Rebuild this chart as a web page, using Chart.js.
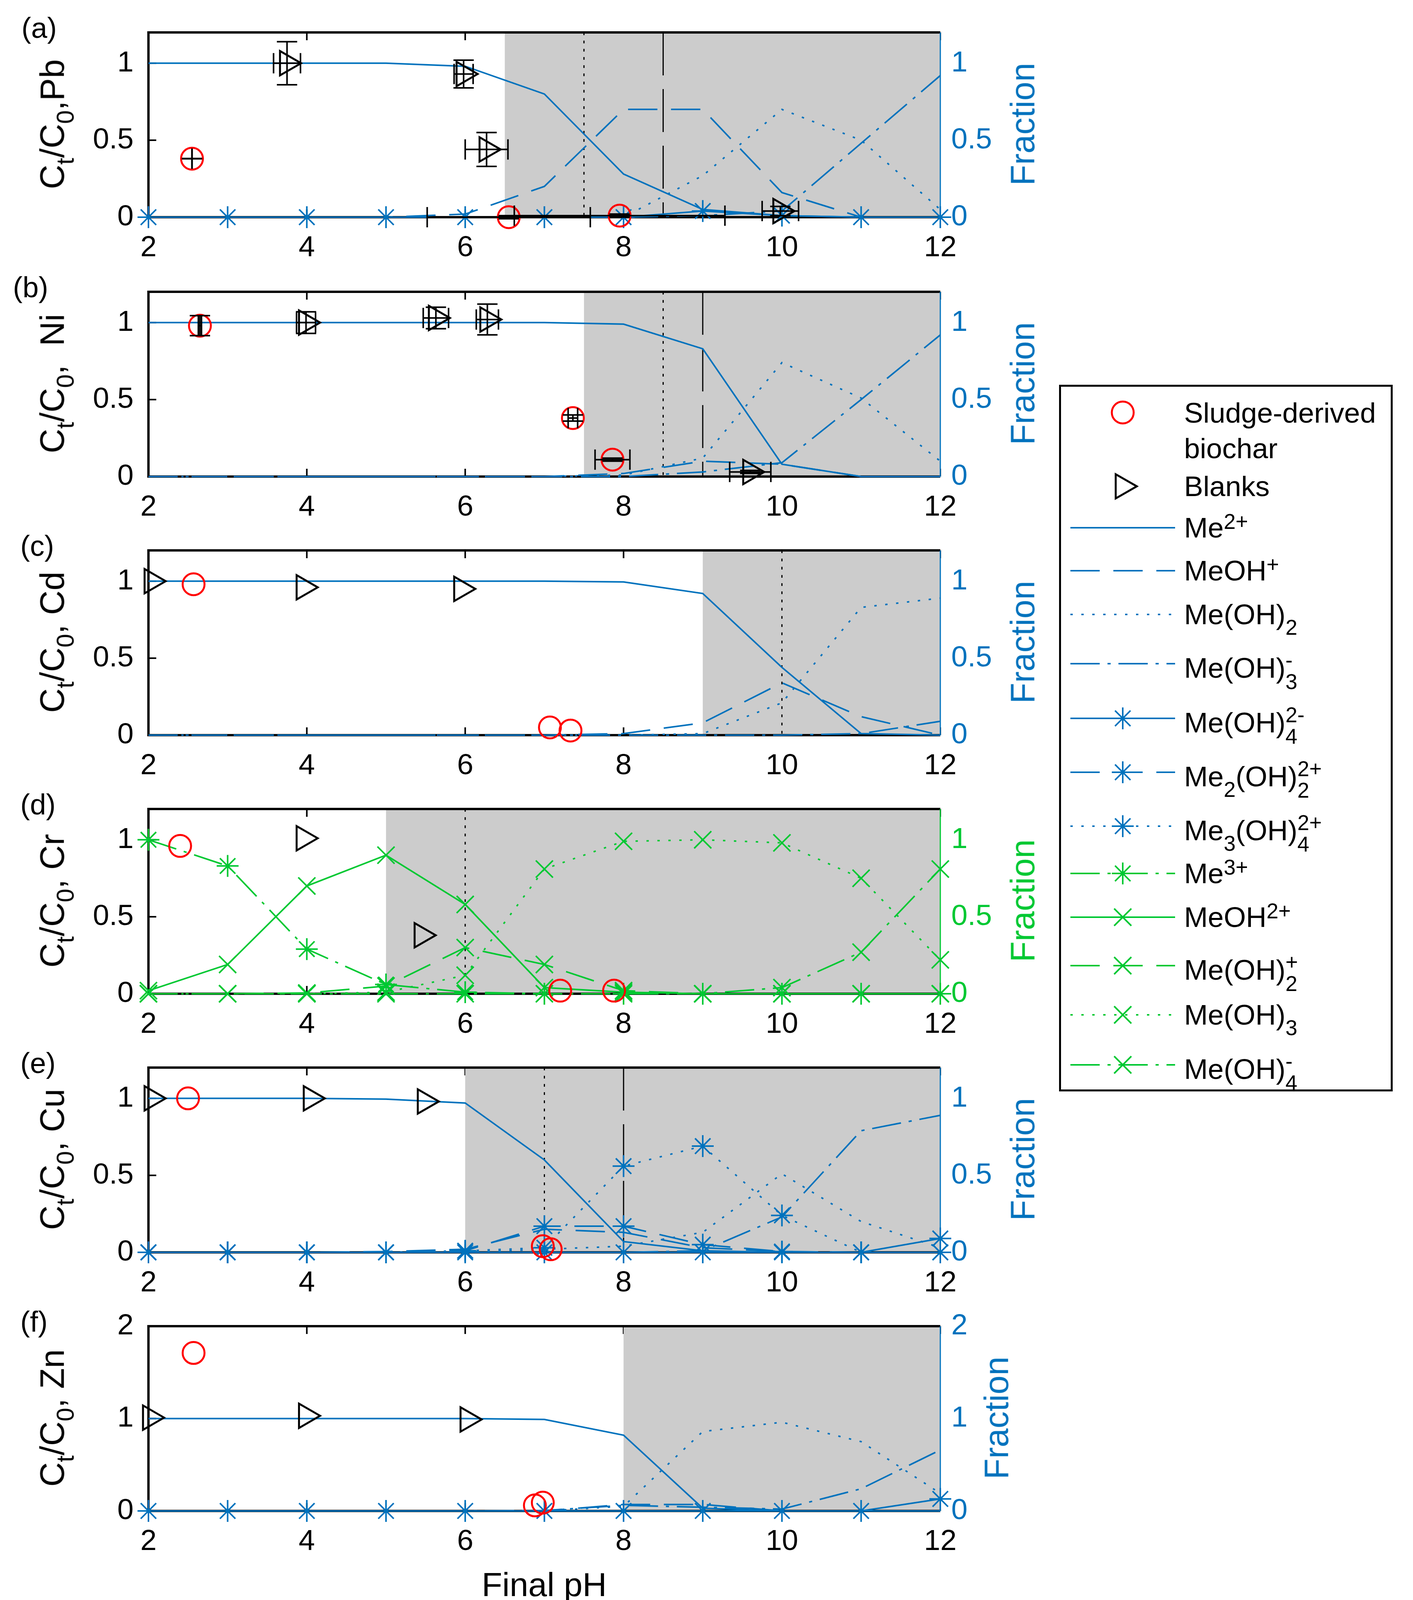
<!DOCTYPE html>
<html>
<head>
<meta charset="utf-8">
<script src="https://cdn.jsdelivr.net/npm/chart.js@4.4.1/dist/chart.umd.min.js"></script>
<style>
  body { margin: 0; background: #fff; }
  #page { position: relative; width: 3617px; height: 4128px; font-family: "Liberation Sans", Arial, sans-serif; color: #000; overflow: hidden; }
  canvas.panel { position: absolute; left: 0; }
  .plabel { position: absolute; font-size: 74px; line-height: 74px; }
  .ytitle { position: absolute; font-size: 87px; line-height: 87px; white-space: nowrap; transform: translate(-50%, -50%) rotate(-90deg); }
  .ytitle sub { font-size: 0.72em; vertical-align: -0.4em; line-height: 0; }
  .xtitle { position: absolute; font-size: 86px; line-height: 86px; white-space: nowrap; transform: translate(-50%, -50%); }
  #legend { position: absolute; left: 2711px; top: 985px; width: 854px; height: 1809px; box-sizing: border-box; border: 5px solid #000; background: #fff; }
  .lrow { position: absolute; left: 0; }
  .lrow svg { position: absolute; left: 24px; top: -40px; }
  .ltext { position: absolute; left: 315px; top: -37px; font-size: 73px; line-height: 73px; white-space: nowrap; }
  .ltext sup { font-size: 0.75em; vertical-align: 0.4em; line-height: 0; }
  .ltext sub { font-size: 0.75em; vertical-align: -0.5em; line-height: 0; }
  .ss { display: inline-block; position: relative; width: 0.9em; height: 1em; vertical-align: baseline; }
  .ss .u, .ss .d { position: absolute; left: 0; font-size: 0.75em; line-height: 1; }
  .ss .u { top: 0.02em; }
  .ss .d { top: 1.02em; }
</style>
</head>
<body>
<div id="page"></div>
<script>
// ---- data ----
const pH = [2, 3, 4, 5, 6, 7, 8, 9, 10, 11, 12];
const xTicks = [2, 4, 6, 8, 10, 12];
const yTicks = [0, 0.5, 1];
const yTicksZn = [0, 1, 2];

// shaded region start, vertical marker lines (pH), one per panel a..f
const shadeFrom = [6.5, 7.5, 9, 5, 6, 8];
const dottedAt = [7.5, 8.5, 10, 6, 7, null];
const dashedAt = [8.5, 9, null, null, 8, null];

// (a) Pb speciation
const pbMe = [1, 1, 1, 1, 0.98, 0.80, 0.28, 0.05, 0.01, 0, 0];
const pbMeOH = [0, 0, 0, 0, 0.02, 0.20, 0.70, 0.70, 0.16, 0, 0];
const pbMeOH2 = [0, 0, 0, 0, 0, 0, 0, 0.27, 0.70, 0.50, 0.05];
const pbMeOH3 = [0, 0, 0, 0, 0, 0, 0, 0.01, 0.04, 0.48, 0.92];
const pbMeOH4 = [0, 0, 0, 0, 0, 0, 0, 0.04, 0.01, 0, 0];
const pbSludgePH = [2.55, 6.55, 7.95];
const pbSludgeC = [0.38, 0.0, 0.01];
const pbSludgeXErr = [0.001, 1.03, 1.33];
const pbSludgeYErr = [0.001, 0.01, 0.01];
const pbBlankPH = [3.75, 5.98, 6.27, 9.98];
const pbBlankC = [1.0, 0.93, 0.44, 0.04];
const pbBlankXErr = [0.17, 0.12, 0.27, 0.23];
const pbBlankYErr = [0.14, 0.09, 0.11, 0.03];

// (b) Ni
const niMe = [1, 1, 1, 1, 1, 1, 0.99, 0.83, 0.08, 0, 0];
const niMeOH = [0, 0, 0, 0, 0, 0, 0.02, 0.10, 0.08, 0, 0];
const niMeOH2 = [0, 0, 0, 0, 0, 0, 0.01, 0.12, 0.74, 0.51, 0.10];
const niMeOH3 = [0, 0, 0, 0, 0, 0, 0, 0.03, 0.09, 0.50, 0.92];
const niSludgePH = [2.65, 7.36, 7.86];
const niSludgeC = [0.98, 0.38, 0.11];
const niSludgeXErr = [0.02, 0.06, 0.22];
const niSludgeYErr = [0.065, 0.02, 0.01];
const niBlankPH = [3.99, 5.63, 6.28, 9.6];
const niBlankC = [1.0, 1.03, 1.02, 0.03];
const niBlankXErr = [0.12, 0.16, 0.14, 0.26];
const niBlankYErr = [0.07, 0.07, 0.10, 0.01];

// (c) Cd
const cdMe = [1, 1, 1, 1, 1, 1, 0.995, 0.92, 0.44, 0.01, 0];
const cdMeOH = [0, 0, 0, 0, 0, 0, 0.01, 0.08, 0.34, 0.12, 0];
const cdMeOH2 = [0, 0, 0, 0, 0, 0, 0, 0.01, 0.21, 0.83, 0.89];
const cdMeOH3 = [0, 0, 0, 0, 0, 0, 0, 0, 0, 0.01, 0.09];
const cdSludgePH = [2.57, 7.07, 7.33];
const cdSludgeC = [0.98, 0.05, 0.03];
const cdBlankPH = [2.04, 3.96, 5.95];
const cdBlankC = [1.0, 0.96, 0.95];

// (d) Cr
const crMe3 = [1.0, 0.83, 0.29, 0.06, 0.01, 0, 0, 0, 0, 0, 0];
const crMeOH = [0.02, 0.19, 0.70, 0.90, 0.58, 0.04, 0.01, 0, 0, 0, 0];
const crMeOH2 = [0, 0, 0.005, 0.05, 0.30, 0.19, 0.02, 0, 0, 0, 0];
const crMeOH3 = [0, 0, 0, 0.01, 0.12, 0.81, 0.99, 1.0, 0.98, 0.75, 0.22];
const crMeOH4 = [0, 0, 0, 0, 0, 0, 0, 0, 0.04, 0.27, 0.81];
const crSludgePH = [2.40, 7.20, 7.88];
const crSludgeC = [0.96, 0.02, 0.02];
const crBlankPH = [3.96, 5.45];
const crBlankC = [1.01, 0.38];

// (e) Cu
const cuMe = [1, 1, 1, 0.995, 0.97, 0.60, 0.07, 0.01, 0, 0, 0];
const cuMeOH = [0, 0, 0, 0.005, 0.02, 0.15, 0.13, 0.03, 0.005, 0, 0];
const cuMeOH2 = [0, 0, 0, 0, 0, 0.02, 0.04, 0.13, 0.51, 0.20, 0.03];
const cuMeOH3 = [0, 0, 0, 0, 0, 0, 0, 0.01, 0.23, 0.79, 0.89];
const cuMeOH4 = [0, 0, 0, 0, 0, 0, 0, 0, 0, 0, 0.09];
const cuMe2OH2 = [0, 0, 0, 0, 0.01, 0.17, 0.17, 0.05, 0.005, 0, 0];
const cuMe3OH4 = [0, 0, 0, 0, 0.01, 0.03, 0.56, 0.69, 0.24, 0, 0];
const cuSludgePH = [2.50, 6.98, 7.08];
const cuSludgeC = [1.0, 0.04, 0.02];
const cuBlankPH = [2.04, 4.05, 5.49];
const cuBlankC = [1.0, 1.0, 0.98];

// (f) Zn
const znMe = [1, 1, 1, 1, 1, 0.99, 0.82, 0.03, 0, 0, 0];
const znMeOH = [0, 0, 0, 0, 0, 0, 0.07, 0.07, 0, 0, 0];
const znMeOH2 = [0, 0, 0, 0, 0, 0, 0.05, 0.86, 0.96, 0.75, 0.19];
const znMeOH3 = [0, 0, 0, 0, 0, 0.005, 0.06, 0.04, 0.02, 0.24, 0.66];
const znMeOH4 = [0, 0, 0, 0, 0, 0, 0, 0, 0, 0, 0.13];
const znSludgePH = [2.57, 6.88, 6.98];
const znSludgeC = [1.71, 0.06, 0.09];
const znBlankPH = [2.02, 3.99, 6.03];
const znBlankC = [1.01, 1.03, 0.99];

// ---- styling ----
const BLUE = '#0072bd';
const GREEN = '#00c832';
const RED = '#ff0000';
const DASH = { solid: [], dash: [75, 35], dot: [6, 22], dashdot: [75, 20, 8, 20] };
const FONT = 'Liberation Sans, Arial, sans-serif';

function species(vals, color, dash, marker) {
  return {
    data: pH.map((x, i) => ({ x, y: vals[i] })),
    yAxisID: 'y1',
    showLine: true,
    clip: false,
    borderColor: color,
    backgroundColor: 'rgba(0,0,0,0)',
    borderWidth: 4,
    borderDash: DASH[dash],
    pointStyle: marker || 'circle',
    pointRadius: marker ? (marker === 'crossRot' ? 31 : 28) : 0,
    pointBorderWidth: 4,
    pointBorderColor: color,
    pointBackgroundColor: 'rgba(0,0,0,0)'
  };
}

function measured(xs, ys, kind, xErr, yErr) {
  const sludge = kind === 'sludge';
  return {
    data: xs.map((x, i) => ({ x, y: ys[i] })),
    yAxisID: 'y',
    showLine: false,
    clip: false,
    pointStyle: sludge ? 'circle' : 'triangle',
    pointRotation: sludge ? 0 : 90,
    pointRadius: sludge ? 28 : 36,
    pointBorderWidth: 5,
    pointBorderColor: sludge ? RED : '#000',
    pointBackgroundColor: 'rgba(0,0,0,0)',
    errX: xErr || null,
    errY: yErr || null
  };
}

// shaded zone, frame, inward ticks and vertical pH markers
Chart.register({
  id: 'phMarks',
  beforeDatasetsDraw(chart, args, o) {
    const { ctx, chartArea: a } = chart;
    const xs = chart.scales.x, ys = chart.scales.y;
    const seg = (x1, y1, x2, y2) => { ctx.beginPath(); ctx.moveTo(x1, y1); ctx.lineTo(x2, y2); ctx.stroke(); };
    ctx.save();
    ctx.lineWidth = 4;
    ctx.strokeStyle = '#000';
    xTicks.forEach(v => {
      const p = xs.getPixelForValue(v);
      seg(p, a.top, p, a.top + 20);
      seg(p, a.bottom, p, a.bottom - 20);
    });
    o.ticks.forEach(v => { const p = ys.getPixelForValue(v); seg(a.left, p, a.left + 20, p); });
    ctx.strokeStyle = o.axisColor;
    o.ticks.forEach(v => { const p = ys.getPixelForValue(v); seg(a.right, p, a.right - 20, p); });

    if (o.shade != null) {
      const sx = xs.getPixelForValue(o.shade);
      ctx.fillStyle = '#cccccc';
      ctx.fillRect(sx, a.top, a.right - sx, a.bottom - a.top);
    }

    ctx.strokeStyle = '#000';
    ctx.lineWidth = 6;
    seg(a.left, a.top, a.right, a.top);
    seg(a.left, a.top - 3, a.left, a.bottom + 3);
    seg(a.left, a.bottom, a.right, a.bottom);
    ctx.strokeStyle = o.axisColor;
    ctx.lineWidth = 3;
    seg(a.right, a.top, a.right, a.bottom);

    ctx.strokeStyle = '#000';
    ctx.lineWidth = 3;
    if (o.dotted != null) {
      const p = xs.getPixelForValue(o.dotted);
      ctx.setLineDash([7, 14]);
      seg(p, a.top, p, a.bottom);
    }
    if (o.dashed != null) {
      const p = xs.getPixelForValue(o.dashed);
      ctx.setLineDash([110, 35]);
      seg(p, a.top, p, a.bottom);
    }
    ctx.restore();
  }
});

// simple x/y error bars with caps
Chart.register({
  id: 'errorBars',
  afterDatasetsDraw(chart) {
    const ctx = chart.ctx, xs = chart.scales.x, ys = chart.scales.y;
    const seg = (x1, y1, x2, y2) => { ctx.beginPath(); ctx.moveTo(x1, y1); ctx.lineTo(x2, y2); ctx.stroke(); };
    ctx.save();
    ctx.strokeStyle = '#000';
    ctx.lineWidth = 4;
    chart.data.datasets.forEach(ds => {
      if (!ds.errX && !ds.errY) return;
      ds.data.forEach((pt, i) => {
        const px = xs.getPixelForValue(pt.x), py = ys.getPixelForValue(pt.y);
        const ex = ds.errX ? ds.errX[i] : 0, ey = ds.errY ? ds.errY[i] : 0;
        if (ex) {
          const l = xs.getPixelForValue(pt.x - ex), r = xs.getPixelForValue(pt.x + ex);
          seg(l, py, r, py); seg(l, py - 26, l, py + 26); seg(r, py - 26, r, py + 26);
        }
        if (ey) {
          const t = ys.getPixelForValue(pt.y + ey), b = ys.getPixelForValue(pt.y - ey);
          seg(px, t, px, b); seg(px - 26, t, px + 26, t); seg(px - 26, b, px + 26, b);
        }
      });
    });
    ctx.restore();
  }
});

const page = document.getElementById('page');

function addDiv(cls, html, left, top) {
  const d = document.createElement('div');
  d.className = cls;
  d.innerHTML = html;
  d.style.left = left + 'px';
  d.style.top = top + 'px';
  page.appendChild(d);
  return d;
}

function makePanel(p) {
  const canvas = document.createElement('canvas');
  canvas.className = 'panel';
  canvas.width = 2700;
  canvas.height = 662;
  canvas.style.top = (p.top - 80) + 'px';
  page.appendChild(canvas);

  const tickFont = { family: FONT, size: 75 };
  new Chart(canvas, {
    type: 'scatter',
    data: { datasets: p.datasets },
    options: {
      responsive: false,
      animation: false,
      devicePixelRatio: 1,
      layout: { padding: { top: 80, left: 0, right: 0, bottom: 0 } },
      plugins: {
        legend: { display: false },
        tooltip: { enabled: false },
        phMarks: { shade: p.shade, dotted: p.dotted, dashed: p.dashed, axisColor: p.color, ticks: p.ticks }
      },
      scales: {
        x: {
          type: 'linear', min: 2, max: 12,
          afterBuildTicks: s => { s.ticks = xTicks.map(v => ({ value: v })); },
          afterFit: s => { s.height = 106; },
          grid: { display: false, drawTicks: false },
          border: { display: false },
          ticks: { font: tickFont, color: '#000', padding: 34, maxRotation: 0, callback: v => String(v) }
        },
        y: {
          position: 'left', min: 0, max: p.ymax,
          afterBuildTicks: s => { s.ticks = p.ticks.map(v => ({ value: v })); },
          afterFit: s => { s.width = 380; },
          grid: { display: false, drawTicks: false },
          border: { display: false },
          ticks: { font: tickFont, color: '#000', padding: 38, callback: v => String(v) }
        },
        y1: {
          position: 'right', min: 0, max: p.ymax,
          afterBuildTicks: s => { s.ticks = p.ticks.map(v => ({ value: v })); },
          afterFit: s => { s.width = 293; },
          grid: { display: false, drawTicks: false },
          border: { display: false },
          ticks: { font: tickFont, color: p.color, padding: 28, callback: v => String(v) }
        }
      }
    }
  });

  addDiv('plabel', p.label, p.labelLeft, p.top - 45);
  addDiv('ytitle', p.ytitle, 133, p.top + 238);
  const f = addDiv('ytitle', 'Fraction', p.fracX, p.top + 238);
  f.style.color = p.color;
}

const CT = 'C<sub>t</sub>/C<sub>0</sub>,';

makePanel({
  top: 80, label: '(a)', labelLeft: 55, ytitle: CT + 'Pb', color: BLUE, fracX: 2617,
  ymax: 1.2, ticks: yTicks, shade: shadeFrom[0], dotted: dottedAt[0], dashed: dashedAt[0],
  datasets: [
    measured(pbSludgePH, pbSludgeC, 'sludge', pbSludgeXErr, pbSludgeYErr),
    measured(pbBlankPH, pbBlankC, 'blank', pbBlankXErr, pbBlankYErr),
    species(pbMe, BLUE, 'solid'),
    species(pbMeOH, BLUE, 'dash'),
    species(pbMeOH2, BLUE, 'dot'),
    species(pbMeOH3, BLUE, 'dashdot'),
    species(pbMeOH4, BLUE, 'solid', 'star')
  ]
});

makePanel({
  top: 744, label: '(b)', labelLeft: 33, ytitle: CT + '&nbsp;&nbsp;Ni', color: BLUE, fracX: 2617,
  ymax: 1.2, ticks: yTicks, shade: shadeFrom[1], dotted: dottedAt[1], dashed: dashedAt[1],
  datasets: [
    measured(niSludgePH, niSludgeC, 'sludge', niSludgeXErr, niSludgeYErr),
    measured(niBlankPH, niBlankC, 'blank', niBlankXErr, niBlankYErr),
    species(niMe, BLUE, 'solid'),
    species(niMeOH, BLUE, 'dash'),
    species(niMeOH2, BLUE, 'dot'),
    species(niMeOH3, BLUE, 'dashdot')
  ]
});

makePanel({
  top: 1406, label: '(c)', labelLeft: 52, ytitle: CT + '&nbsp;Cd', color: BLUE, fracX: 2617,
  ymax: 1.2, ticks: yTicks, shade: shadeFrom[2], dotted: dottedAt[2], dashed: dashedAt[2],
  datasets: [
    measured(cdSludgePH, cdSludgeC, 'sludge'),
    measured(cdBlankPH, cdBlankC, 'blank'),
    species(cdMe, BLUE, 'solid'),
    species(cdMeOH, BLUE, 'dash'),
    species(cdMeOH2, BLUE, 'dot'),
    species(cdMeOH3, BLUE, 'dashdot')
  ]
});

makePanel({
  top: 2068, label: '(d)', labelLeft: 52, ytitle: CT + '&nbsp;Cr', color: GREEN, fracX: 2617,
  ymax: 1.2, ticks: yTicks, shade: shadeFrom[3], dotted: dottedAt[3], dashed: dashedAt[3],
  datasets: [
    measured(crSludgePH, crSludgeC, 'sludge'),
    measured(crBlankPH, crBlankC, 'blank'),
    species(crMe3, GREEN, 'dashdot', 'star'),
    species(crMeOH, GREEN, 'solid', 'crossRot'),
    species(crMeOH2, GREEN, 'dash', 'crossRot'),
    species(crMeOH3, GREEN, 'dot', 'crossRot'),
    species(crMeOH4, GREEN, 'dashdot', 'crossRot')
  ]
});

makePanel({
  top: 2730, label: '(e)', labelLeft: 52, ytitle: CT + '&nbsp;Cu', color: BLUE, fracX: 2617,
  ymax: 1.2, ticks: yTicks, shade: shadeFrom[4], dotted: dottedAt[4], dashed: dashedAt[4],
  datasets: [
    measured(cuSludgePH, cuSludgeC, 'sludge'),
    measured(cuBlankPH, cuBlankC, 'blank'),
    species(cuMe, BLUE, 'solid'),
    species(cuMeOH, BLUE, 'dash'),
    species(cuMeOH2, BLUE, 'dot'),
    species(cuMeOH3, BLUE, 'dashdot'),
    species(cuMeOH4, BLUE, 'solid', 'star'),
    species(cuMe2OH2, BLUE, 'dash', 'star'),
    species(cuMe3OH4, BLUE, 'dot', 'star')
  ]
});

makePanel({
  top: 3392, label: '(f)', labelLeft: 52, ytitle: CT + '&nbsp;Zn', color: BLUE, fracX: 2550,
  ymax: 2, ticks: yTicksZn, shade: shadeFrom[5], dotted: dottedAt[5], dashed: dashedAt[5],
  datasets: [
    measured(znSludgePH, znSludgeC, 'sludge'),
    measured(znBlankPH, znBlankC, 'blank'),
    species(znMe, BLUE, 'solid'),
    species(znMeOH, BLUE, 'dash'),
    species(znMeOH2, BLUE, 'dot'),
    species(znMeOH3, BLUE, 'dashdot'),
    species(znMeOH4, BLUE, 'solid', 'star')
  ]
});

addDiv('xtitle', 'Final pH', 1393, 4056);

// ---- legend ----
const legend = document.createElement('div');
legend.id = 'legend';
page.appendChild(legend);

function sampleSvg(color, dash, marker) {
  const cx = 134, cy = 40;
  let s = '<svg width="268" height="80" viewBox="0 0 268 80">';
  if (dash) {
    s += `<line x1="0" y1="${cy}" x2="268" y2="${cy}" stroke="${color}" stroke-width="4" stroke-dasharray="${DASH[dash].join(' ') || 'none'}"/>`;
  }
  const ln = (x1, y1, x2, y2) => `<line x1="${x1}" y1="${y1}" x2="${x2}" y2="${y2}" stroke="${color}" stroke-width="4"/>`;
  if (marker === 'circle') s += `<circle cx="${cx}" cy="${cy}" r="28" fill="none" stroke="${color}" stroke-width="5"/>`;
  if (marker === 'triangle') s += `<polygon points="${cx + 36},${cy} ${cx - 18},${cy - 31} ${cx - 18},${cy + 31}" fill="none" stroke="${color}" stroke-width="5"/>`;
  if (marker === 'star') {
    const r = 28, d = 19.8;
    s += ln(cx - r, cy, cx + r, cy) + ln(cx, cy - r, cx, cy + r) + ln(cx - d, cy - d, cx + d, cy + d) + ln(cx - d, cy + d, cx + d, cy - d);
  }
  if (marker === 'x') {
    const d = 22;
    s += ln(cx - d, cy - d, cx + d, cy + d) + ln(cx - d, cy + d, cx + d, cy - d);
  }
  return s + '</svg>';
}

const ss = (u, d) => `<span class="ss"><span class="u">${u}</span><span class="d">${d}</span></span>`;
const legendRows = [
  { y: 1056, html: 'Sludge-derived<br>biochar', color: RED, dash: null, marker: 'circle', lh: 91 },
  { y: 1245, html: 'Blanks', color: '#000', dash: null, marker: 'triangle' },
  { y: 1351, html: 'Me<sup>2+</sup>', color: BLUE, dash: 'solid' },
  { y: 1461, html: 'MeOH<sup>+</sup>', color: BLUE, dash: 'dash' },
  { y: 1573, html: 'Me(OH)<sub>2</sub>', color: BLUE, dash: 'dot' },
  { y: 1699, html: 'Me(OH)' + ss('-', '3'), color: BLUE, dash: 'dashdot' },
  { y: 1839, html: 'Me(OH)' + ss('2-', '4'), color: BLUE, dash: 'solid', marker: 'star' },
  { y: 1977, html: 'Me<sub>2</sub>(OH)' + ss('2+', '2'), color: BLUE, dash: 'dash', marker: 'star' },
  { y: 2115, html: 'Me<sub>3</sub>(OH)' + ss('2+', '4'), color: BLUE, dash: 'dot', marker: 'star' },
  { y: 2236, html: 'Me<sup>3+</sup>', color: GREEN, dash: 'dashdot', marker: 'star' },
  { y: 2348, html: 'MeOH<sup>2+</sup>', color: GREEN, dash: 'solid', marker: 'x' },
  { y: 2472, html: 'Me(OH)' + ss('+', '2'), color: GREEN, dash: 'dash', marker: 'x' },
  { y: 2598, html: 'Me(OH)<sub>3</sub>', color: GREEN, dash: 'dot', marker: 'x' },
  { y: 2726, html: 'Me(OH)' + ss('-', '4'), color: GREEN, dash: 'dashdot', marker: 'x' }
];

legendRows.forEach(r => {
  const row = document.createElement('div');
  row.className = 'lrow';
  row.style.top = (r.y - 985 - 5) + 'px';
  row.innerHTML = sampleSvg(r.color, r.dash, r.marker);
  const t = document.createElement('div');
  t.className = 'ltext';
  t.innerHTML = r.html;
  if (r.lh) {
    t.style.lineHeight = r.lh + 'px';
    t.style.top = (-r.lh / 2) + 'px';
  }
  row.appendChild(t);
  legend.appendChild(row);
});
</script>
</body>
</html>
